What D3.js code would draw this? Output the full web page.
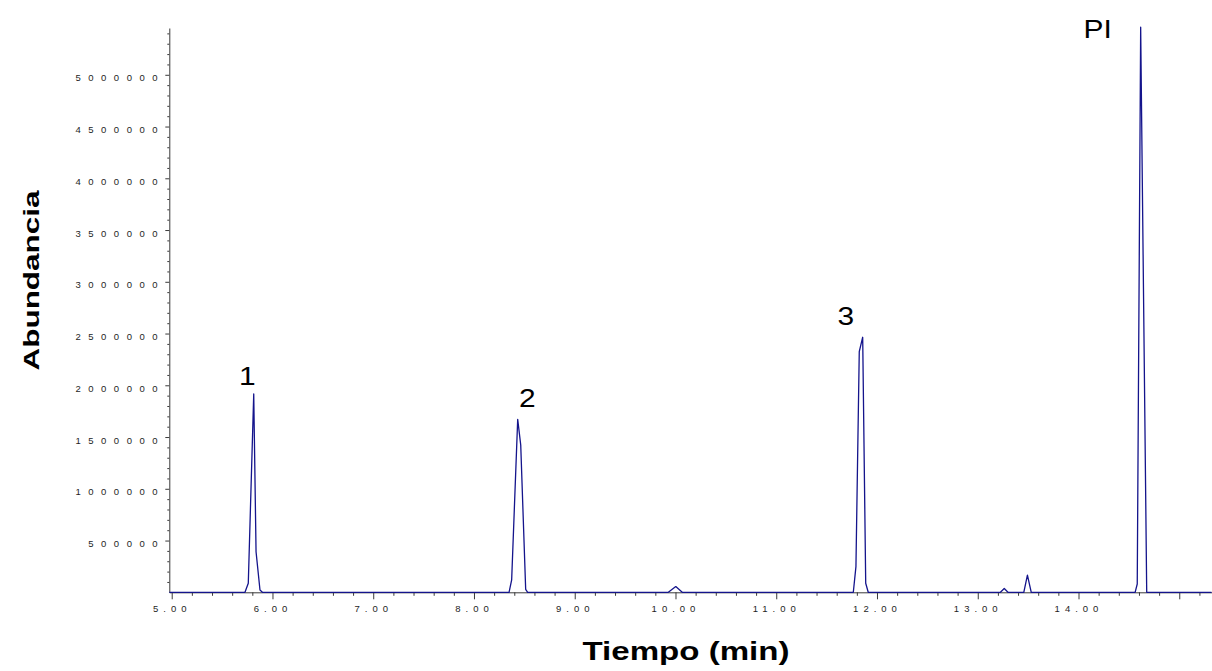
<!DOCTYPE html>
<html>
<head>
<meta charset="utf-8">
<script src="https://cdn.jsdelivr.net/npm/d3@7"></script>
<style>
  html, body { margin: 0; padding: 0; background: #fff; }
  svg { display: block; font-family: "Liberation Sans", Arial, sans-serif; }
</style>
</head>
<body>
<svg id="chart" width="1212" height="671"></svg>
<script>
// ---- data ----
const time = [4.976, 5.727, 5.760, 5.814, 5.837, 5.876, 5.900,
              8.348, 8.374, 8.434, 8.464, 8.513, 8.533,
              9.929, 10.003, 10.067,
              11.765, 11.791, 11.824, 11.858, 11.888, 11.913,
              13.225, 13.263, 13.300,
              13.457, 13.493, 13.531,
              14.562, 14.583, 14.617, 14.677,
              15.32];
const abundance = [0, 0, 87000, 1916000, 392000, 22000, 0,
                   0, 119000, 1671000, 1423000, 29000, 0,
                   0, 55000, 0,
                   0, 248000, 2325000, 2464000, 87000, 0,
                   0, 37000, 0,
                   0, 165000, 0,
                   0, 80000, 5460000, 0,
                   0];
const peakLabels = ["1", "2", "3", "PI"];
const peakLabelTime = [5.75, 8.53, 11.69, 14.19];
const peakLabelValue = [2000000, 1795000, 2585000, 5355000];

const yMajorTicks = [500000, 1000000, 1500000, 2000000, 2500000, 3000000, 3500000, 4000000, 4500000, 5000000];
const xMajorTicks = [5, 6, 7, 8, 9, 10, 11, 12, 13, 14, 15];
const xTickLabels = ["5.00", "6.00", "7.00", "8.00", "9.00", "10.00", "11.00", "12.00", "13.00", "14.00", ""];

const xTitle = "Tiempo (min)";
const yTitle = "Abundancia";

// ---- scales ----
const svg = d3.select("#chart");
const x = d3.scaleLinear().domain([4.976, 15.32]).range([169.3, 1211.5]);
const y = d3.scaleLinear().domain([0, 5452000]).range([592.3, 28]);

const axisColor = "#3a3a3a";
const textColor = "#1e1e1e";

// minor ticks
const yMinor = d3.range(100000, 5452000, 100000).filter(v => v % 500000 !== 0);
const xMinor = d3.range(5.2, 15.32, 0.2).filter(v => Math.abs(v - Math.round(v)) > 0.01);

// ---- x axis ----
const gx = svg.append("g").attr("transform", `translate(0,${y(0)})`);
gx.call(d3.axisBottom(x).tickValues(xMajorTicks).tickSize(7).tickSizeOuter(0)
  .tickFormat((d, i) => xTickLabels[i]));
gx.append("g").call(d3.axisBottom(x).tickValues(xMinor).tickSize(3.5).tickSizeOuter(0).tickFormat(""))
  .select(".domain").remove();
gx.selectAll("path, line").attr("stroke", axisColor);
gx.selectAll("text").attr("fill", textColor).attr("font-size", 9.5)
  .attr("font-family", '"Liberation Sans", Arial, sans-serif')
  .style("letter-spacing", "5px")
  .attr("y", 19.8).attr("dy", 0);

// ---- y axis ----
const gy = svg.append("g").attr("transform", `translate(${x(4.976)},0)`);
gy.call(d3.axisLeft(y).tickValues(yMajorTicks).tickSize(4).tickSizeOuter(0)
  .tickFormat(d3.format("d")));
gy.append("g").call(d3.axisLeft(y).tickValues(yMinor).tickSize(2).tickSizeOuter(0).tickFormat(""))
  .select(".domain").remove();
gy.selectAll("path, line").attr("stroke", axisColor);
gy.selectAll("text").attr("fill", textColor).attr("font-size", 9.5)
  .attr("font-family", '"Liberation Sans", Arial, sans-serif')
  .style("letter-spacing", "7.5px")
  .attr("x", -4.3).attr("dy", 0).attr("y", 6);

// ---- chromatogram line ----
const pts = time.map((t, i) => [t, abundance[i]]);
svg.append("path")
  .datum(pts)
  .attr("fill", "none")
  .attr("stroke", "#14148c")
  .attr("stroke-width", 1.3)
  .attr("stroke-linejoin", "round")
  .attr("d", d3.line().x(d => x(d[0])).y(d => y(d[1])));

// ---- peak labels ----
svg.append("g").selectAll("text")
  .data(peakLabels)
  .join("text")
  .attr("transform", (d, i) => `translate(${x(peakLabelTime[i])},${y(peakLabelValue[i])}) scale(1.15,1)`)
  .attr("text-anchor", "middle")
  .attr("font-size", 26)
  .attr("fill", "#000")
  .text(d => d);

// ---- axis titles ----
svg.append("text")
  .attr("x", 686).attr("y", 660)
  .attr("text-anchor", "middle")
  .attr("font-size", 25.5).attr("font-weight", "bold")
  .attr("textLength", 207).attr("lengthAdjust", "spacingAndGlyphs")
  .attr("fill", "#000")
  .text(xTitle);

svg.append("text")
  .attr("transform", "translate(38.5,280.5) rotate(-90)")
  .attr("text-anchor", "middle")
  .attr("font-size", 21.5).attr("font-weight", "bold")
  .attr("textLength", 180).attr("lengthAdjust", "spacingAndGlyphs")
  .attr("fill", "#000")
  .text(yTitle);
</script>
</body>
</html>
